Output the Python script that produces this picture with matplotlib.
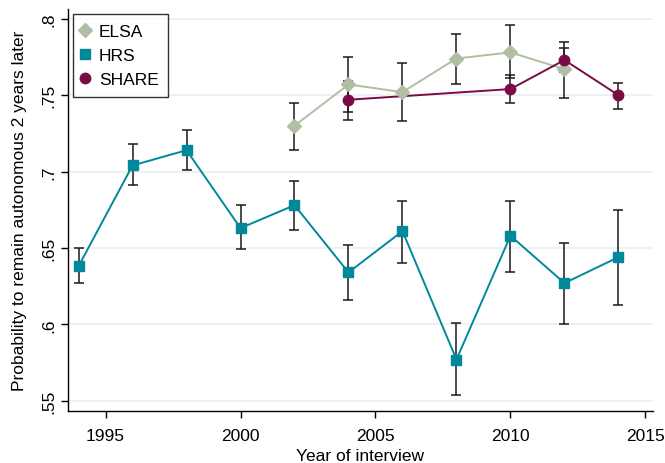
import matplotlib
matplotlib.use("Agg")
from matplotlib import pyplot as plt

plt.rcParams['font.family'] = ['Liberation Sans', 'DejaVu Sans']

# ELSA
elsa_years = [2002, 2004, 2006, 2008, 2010, 2012]
elsa_val = [0.730, 0.757, 0.752, 0.774, 0.778, 0.767]
elsa_lo = [0.714, 0.739, 0.733, 0.757, 0.761, 0.748]
elsa_hi = [0.745, 0.775, 0.771, 0.790, 0.796, 0.785]

# HRS
hrs_years = [1994, 1996, 1998, 2000, 2002, 2004, 2006, 2008, 2010, 2012, 2014]
hrs_val = [0.638, 0.704, 0.714, 0.663, 0.678, 0.634, 0.661, 0.577, 0.658, 0.627, 0.644]
hrs_lo = [0.627, 0.691, 0.701, 0.649, 0.662, 0.616, 0.640, 0.554, 0.634, 0.600, 0.613]
hrs_hi = [0.650, 0.718, 0.727, 0.678, 0.694, 0.652, 0.681, 0.601, 0.681, 0.653, 0.675]

# SHARE
share_years = [2004, 2010, 2012, 2014]
share_val = [0.747, 0.754, 0.773, 0.750]
share_lo = [0.734, 0.745, 0.765, 0.741]
share_hi = [0.759, 0.763, 0.781, 0.758]

yticks = [0.55, 0.6, 0.65, 0.7, 0.75, 0.8]
ytick_labels = ['.55', '.6', '.65', '.7', '.75', '.8']
xticks = [1995, 2000, 2005, 2010, 2015]

col_elsa = '#b0bea4'
col_hrs = '#00899b'
col_share = '#7c0a45'


def draw(ax, x, y, lo, hi, color, marker, ms, label):
    yerr = [[v - l for v, l in zip(y, lo)], [h - v for v, h in zip(y, hi)]]
    ax.errorbar(x, y, yerr=yerr, fmt='none', ecolor='#1a1a1a', elinewidth=1.1,
                capsize=3.5, capthick=1.1, zorder=2)
    ax.plot(x, y, color=color, lw=1.4, zorder=3)
    ax.plot(x, y, ls='none', marker=marker, ms=ms, color=color,
            markeredgecolor=color, zorder=4, label=label)


fig = plt.figure(figsize=(6.65, 4.64), dpi=100)
ax = fig.add_axes([68 / 665, 1 - 412 / 464, (653 - 68) / 665, (412 - 10) / 464])

for t in yticks:
    ax.axhline(t, color='#e8f0f2', lw=1.2, zorder=0)

draw(ax, elsa_years, elsa_val, elsa_lo, elsa_hi, col_elsa, 'D', 7.2, 'ELSA')
draw(ax, hrs_years, hrs_val, hrs_lo, hrs_hi, col_hrs, 's', 7, 'HRS')
draw(ax, share_years, share_val, share_lo, share_hi, col_share, 'o', 7.5, 'SHARE')

ax.set_xlim(1993.61, 2015.28)
ax.set_ylim(0.5433, 0.8064)
ax.set_yticks(yticks)
ax.set_yticklabels(ytick_labels, rotation=90, va='center')
ax.set_xticks(xticks)
ax.tick_params(direction='out', length=5, width=1, labelsize=12.5, colors='black')
ax.tick_params(axis='x', pad=7)
for s in ['top', 'right']:
    ax.spines[s].set_visible(False)
for s in ['left', 'bottom']:
    ax.spines[s].set_linewidth(1)

ax.set_xlabel('Year of interview', fontsize=12.5)
ax.set_ylabel('Probability to remain autonomous 2 years later', fontsize=12.5, labelpad=10)

leg = ax.legend(loc='upper left', bbox_to_anchor=(0.0085, 0.9876), fontsize=12.5,
                frameon=True, fancybox=False, handletextpad=0.64,
                borderpad=0.55, labelspacing=0.52, handlelength=0.3,
                borderaxespad=0)
leg.get_frame().set_edgecolor('black')
leg.get_frame().set_linewidth(1)

fig.savefig('out.png', dpi=100)
